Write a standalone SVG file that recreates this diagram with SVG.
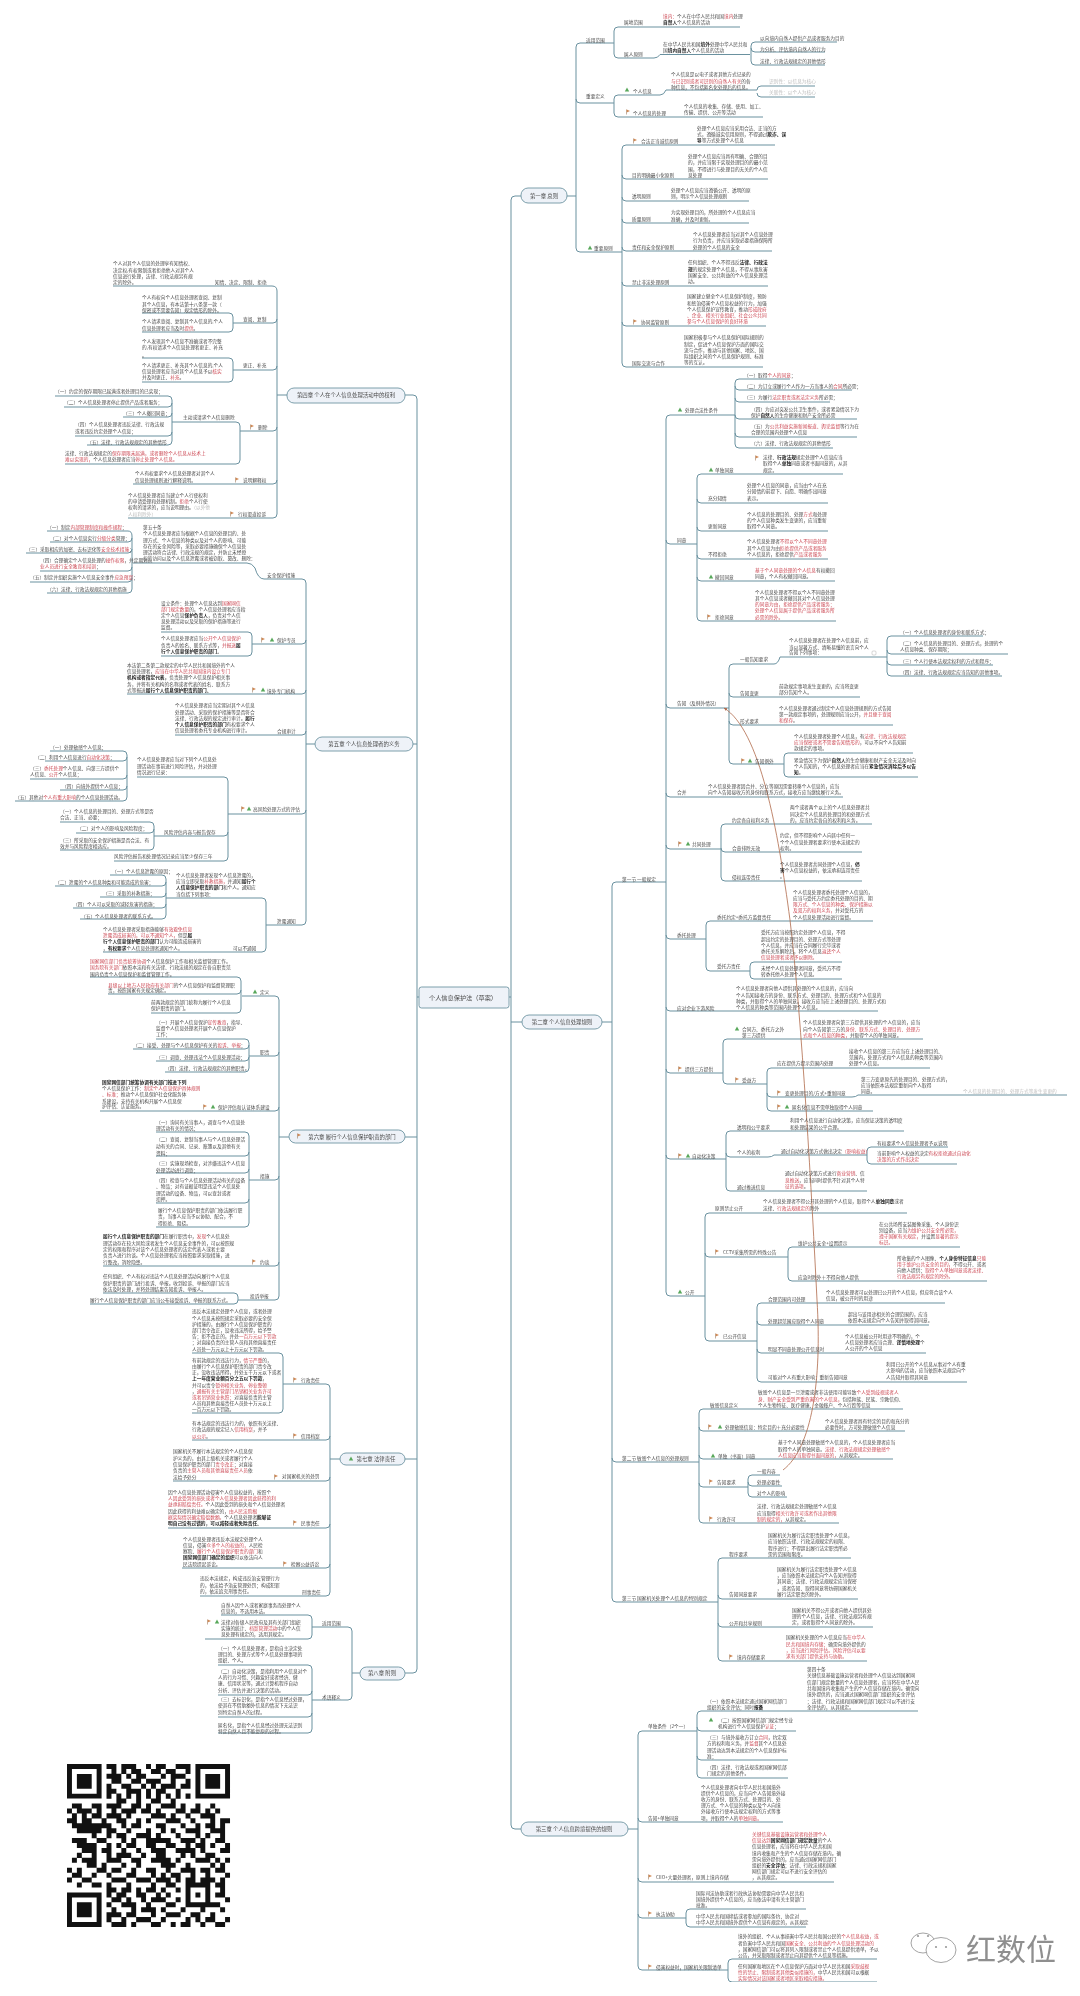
<svg xmlns="http://www.w3.org/2000/svg" width="1080" height="1996" viewBox="0 0 1080 1996">
<style>
text{font-family:"Noto Sans CJK SC","Liberation Sans",sans-serif;font-size:4.7px;fill:#4a4a4a}
.r{fill:#cc4a55}.b{font-weight:700;fill:#222}.g{fill:#bdbdbd}
.c{font-size:5.4px;text-anchor:middle}
.p{fill:#eef2f8;stroke:#6f95a3;stroke-width:.9}
.l{fill:none;stroke:#6a919f;stroke-width:1}
</style>
<defs>
<g id="f"><path d="M-1.5 2.5V-2.5" stroke="#9a7a60" stroke-width=".6"/><path d="M-1.3-2.4L2-.9-1.3.4z" fill="#d08a55"/></g>
<g id="h"><path d="M0-2.6L2.2 1.6H-2.2z" fill="#58a85a"/></g>
<filter id="s" x="0" y="0" width="100%" height="100%"><feGaussianBlur stdDeviation=".3"/></filter>
<marker id="a" markerWidth="6" markerHeight="6" refX="4" refY="2" orient="auto"><path d="M0 0L4 2 0 4z" fill="#b0694a"/></marker>
</defs>
<rect width="1080" height="1996" fill="#fff"/>
<g filter="url(#s)">
<g id="connectors">
<path class="l" d="M509 997H511M521 196H515Q511 196 511 200V1825Q511 1829 515 1829H521M511 1022H522M419 997H417M405 395H413Q417 395 417 399V1669Q417 1673 413 1673H405M413 744H417M405 1137H417M405 1459H417"/>
<path class="l" d="M567 196H576M576 47V248M576 47q0-4 4-4H614M576 99q0 4 4 4H614M576 248q0 4 4 4H622M614 31V54M614 31q0-4 4-4H740M614 54q0 4 4 4H654Q658 58 660 54.500H750M751 46V61M751 46q0-4 4-4H837M751 48q0 4 4 4H825M751 61q0 4 4 4H825M614 99V113M614 99q0-4 4-4H660Q664 95 666 90H757M614 113q0 4 4 4H763M757 90q0-4 4-4H815M757 93q0 4 4 4H815"/>
<path class="l" d="M622 149V363M622 149q0-4 4-4H775M622 175q0 4 4 4H768M622 197q0 4 4 4H749M622 219q0 4 4 4H749M622 247q0 4 4 4H772M622 282q0 4 4 4H768M622 322q0 4 4 4H766M622 363q0 4 4 4H763"/>
<path class="l" d="M602 1022H612M612 886V1598M612 886q0-4 4-4H666M612 1458q0 4 4 4H699M612 1598q0 4 4 4H718M666 419V1292M666 419q0-4 4-4H735M666 540q0 4 4 4H697M666 704q0 4 4 4H729M666 793q0 4 4 4H843M666 845q0 4 4 4H721M666 935q0 4 4 4H706M666 1007q0 4 4 4H878M666 1069q0 4 4 4H723M666 1155q0 4 4 4H726M666 1292q0 4 4 4H705"/>
<path class="l" d="M735 383V444M735 383q0-4 4-4H790M735 386q0 4 4 4H852M735 398q0 4 4 4H830M735 415q0 4 4 4H857M735 433q0 4 4 4H857M735 444q0 4 4 4H833"/>
<path class="l" d="M697 478V617M697 478q0-4 4-4H843M697 499q0 4 4 4H828M697 527q0 4 4 4H828M697 555q0 4 4 4H828M697 577q0 4 4 4H835M697 617q0 4 4 4H836"/>
<path class="l" d="M729 668V760M729 668q0-4 4-4H774Q778 664 780 657H887M729 693q0 4 4 4H860M729 721q0 4 4 4H893M729 760q0 4 4 4H784M887 640V672M887 640q0-4 4-4H983M887 650q0 4 4 4H1008M887 661q0 4 4 4H993M887 672q0 4 4 4H1002M784 757V773M784 757q0-4 4-4H913M784 773q0 4 4 4H918"/>
<path class="l" d="M721 828V877M721 828q0-4 4-4H872M721 848q0 4 4 4H862M721 877q0 4 4 4H862M706 925V967M706 925q0-4 4-4H873M706 967q0 4 4 4H750M750 966V975M750 966q0-4 4-4H842M750 975q0 4 4 4H842"/>
<path class="l" d="M723 1043V1080M723 1043q0-4 4-4H923M723 1080q0 4 4 4H767M767 1072V1107M767 1072q0-4 4-4H930M767 1093q0 4 4 4H852Q856 1097 858 1095H1067M767 1107q0 4 4 4H873"/>
<path class="l" d="M726 1135V1187M726 1135q0-4 4-4H904M726 1153q0 4 4 4H768Q772 1157 774 1155H867M726 1187q0 4 4 4H867M867 1151V1160M867 1151q0-4 4-4H948M867 1160q0 4 4 4H957"/>
<path class="l" d="M705 1217V1337M705 1217q0-4 4-4H907M705 1253q0 4 4 4H788M705 1337q0 4 4 4H757M788 1251V1277M788 1251q0-4 4-4H960M788 1277q0 4 4 4H987M757 1307V1378M757 1307q0-4 4-4H945M757 1321q0 4 4 4H929M757 1349q0 4 4 4H926M757 1378q0 4 4 4H967"/>
<path class="l" d="M699 1413V1519M699 1413q0-4 4-4H903M699 1427q0 4 4 4H905M699 1455q0 4 4 4H893M699 1483q0 4 4 4H748M699 1519q0 4 4 4H839M748 1479V1493M748 1479q0-4 4-4H780M748 1482q0 4 4 4H782M748 1493q0 4 4 4H787"/>
<path class="l" d="M718 1562V1657M718 1562q0-4 4-4H851M718 1595q0 4 4 4H858M718 1623q0 4 4 4H873M718 1657q0 4 4 4H867"/>
<path class="l" d="M628 1829H638M638 1735V1966M638 1735q0-4 4-4H697M638 1818q0 4 4 4H783M638 1878q0 4 4 4H834M638 1914q0 4 4 4H686M638 1966q0 4 4 4H728M697 1715V1774M697 1715q0-4 4-4H918M697 1727q0 4 4 4H796M697 1756q0 4 4 4H788M697 1774q0 4 4 4H788M686 1913V1923M686 1913q0-4 4-4H806M686 1923q0 4 4 4H806M728 1963V1978M728 1963q0-4 4-4H877M728 1978q0 4 4 4H877"/>
<path class="l" d="M287 395H277M277 291V514M277 291q0-5-5-5H113M277 319q0 4-4 4H233M277 366q0 4-4 4H233M277 427q0 4-4 4H240M277 480q0 4-4 4H133M277 514q0 4-4 4H128M233 317V328M233 317q0-4-4-4H142M233 328q0 4-4 4H142M233 362V378M233 362q0-4-4-4H142M233 378q0 4-4 4H142M240 426V460M240 426q0-4-4-4H172M240 460q0 4-4 4H65M172 400V441M172 400q0-4-4-4H55M172 403q0 4-4 4H64M172 413q0 4-4 4H123M172 432q0 4-4 4H75M172 441q0 4-4 4H87"/>
<path class="l" d="M315 744H306M306 583V921M306 583q0-4-4-4H264Q258 579 255 568Q252 563 247 563H133M306 640q0 4-4 4H252M306 690q0 4-4 4H127M306 731q0 4-4 4H175M306 810q0 4-4 4H228M306 921q0 4-4 4H266M132 536V589M132 536q0-5-4-5H47M132 538q0 4-4 4H50M132 549q0 4-4 4H26M132 567q0 4-4 4H40M132 578q0 4-4 4H30M132 589q0 4-4 4H47"/>
<path class="l" d="M252 636V652M252 636q0-4-4-4H161M252 652q0 4-4 4H161M228 781V857M228 781q0-4-4-4H137M228 832q0 4-4 4H154M228 857q0 4-4 4H114M127 755V797M127 755q0-4-4-4H50M127 757q0 4-4 4H45M127 775q0 4-4 4H30M127 786q0 4-4 4H60M127 797q0 4-4 4H15M154 826V846M154 826q0-4-4-4H60M154 829q0 4-4 4H76M154 846q0 4-4 4H60M266 902V948M266 902q0-4-4-4H166M266 948q0 4-4 4H103M166 879V915M166 879q0-4-4-4H110M166 882q0 4-4 4H55M166 893q0 4-4 4H100M166 904q0 4-4 4H73M166 915q0 4-4 4H80"/>
<path class="l" d="M289 1137H279M279 1000V1296M279 1000q0-4-4-4H242M279 1052q0 4-4 4H249M279 1107q0 4-4 4H100M279 1176q0 4-4 4H249M279 1262q0 4-4 4H103M279 1296q0 4-4 4H238M241 981V1009M241 981q0-4-4-4H90M241 990q0 4-4 4H108M241 1009q0 4-4 4H151M249 1043V1068M249 1043q0-4-4-4H156M249 1045q0 4-4 4H133M249 1057q0 4-4 4H156M249 1068q0 4-4 4H165M249 1136V1223M249 1136q0-4-4-4H156M249 1152q0 4-4 4H156M249 1169q0 4-4 4H156M249 1199q0 4-4 4H156M249 1223q0 4-4 4H156M238 1297V1300M238 1297q0-4-4-4H103M238 1300q0 4-4 4H90"/>
<path class="l" d="M340 1459H330M330 1388V1592M330 1388q0-4-4-4H283M330 1436q0 4-4 4H192M330 1477q0 4-4 4H173M330 1524q0 4-4 4H168M330 1564q0 4-4 4H182M330 1592q0 4-4 4H200M283 1357V1409M283 1357q0-4-4-4H192M283 1409q0 4-4 4H192M360 1673H352M352 1631V1696M352 1631q0-4-4-4H312M352 1696q0 4-4 4H312M312 1619V1635M312 1619q0-4-4-4H221M312 1635q0 4-4 4H205M312 1669V1729M312 1669q0-4-4-4H218M312 1691q0 4-4 4H218M312 1713q0 4-4 4H218M312 1729q0 4-4 4H218"/>
<path d="M783 1470C812 1448 822 1380 817 1300C812 1200 802 1020 790 920C778 830 760 730 724 708" fill="none" stroke="#b0694a" stroke-width=".8" marker-end="url(#a)"/>
</g>
<g id="root"><rect x="419" y="987" width="90" height="21" rx="2.500" class="p"/><text class="c" x="463" y="1000" style="font-size:6.2px">个人信息保护法（草案）</text></g>
<g id="ch1"><rect x="521" y="188" width="46" height="15" rx="7" class="p"/><text class="c" x="544" y="198">第一章 总则</text></g>
<g id="ch2"><rect x="522" y="1015" width="80" height="14" rx="7" class="p"/><text class="c" x="562" y="1024">第二章 个人信息处理规则</text></g>
<g id="ch3"><rect x="521" y="1822" width="107" height="14" rx="7" class="p"/><text class="c" x="574" y="1831">第三章 个人信息跨境提供的规则</text></g>
<g id="ch4"><rect x="287" y="388" width="118" height="15" rx="7" class="p"/><text class="c" x="346" y="397">第四章 个人在个人信息处理活动中的权利</text></g>
<g id="ch5"><rect x="315" y="737" width="98" height="14" rx="7" class="p"/><text class="c" x="364" y="746">第五章 个人信息处理者的义务</text></g>
<g id="ch6"><rect x="289" y="1130" width="116" height="13" rx="6.500" class="p"/><use href="#f" x="299" y="1136"/><text class="c" x="352" y="1139">第六章 履行个人信息保护职责的部门</text></g>
<g id="ch7"><rect x="340" y="1453" width="65" height="12" rx="6" class="p"/><use href="#h" x="351" y="1459"/><text class="c" x="376" y="1461">第七章 法律责任</text></g>
<g id="ch8"><rect x="360" y="1667" width="45" height="13" rx="6.500" class="p"/><text class="c" x="382" y="1675">第八章 附则</text></g>

<g id="scope">
<text x="586" y="41.600">适用范围</text>
<text x="624" y="24.300">属地范围</text>
<text x="663" y="18.300"><tspan class="r">境内：</tspan>个人在中华人民共和国<tspan class="r">境内</tspan>处理</text>
<text x="663" y="24.300"><tspan class="r b">自然人</tspan>个人信息的活动</text>
<text x="624" y="55.600">属人原则</text>
<text x="663" y="45.600">在中华人民共和国<tspan class="b">境外</tspan>处理中华人民共和</text>
<text x="663" y="51.600">国<tspan class="r b">境内自然人</tspan>个人信息的活动</text>
<text x="760" y="40.300">以向境内自然人提供产品或者服务为目的</text>
<text x="760" y="51.300">为分析、评估境内自然人的行为</text>
<text x="760" y="62.600">法律、行政法规规定的其他情形</text>
</g>
<g id="defs1">
<text x="586" y="97.600">重要定义</text>
<use href="#h" x="627" y="90"/><text x="633" y="92.600">个人信息</text>
<text x="671" y="76.300">个人信息是以电子或者其他方式记录的</text>
<text x="671" y="82.600"><tspan class="r">与已识别或者可识别的自然人有关</tspan>的各</text>
<text x="671" y="89">种信息，不包括匿名化处理后的信息。</text>
<text class="g" x="769" y="83">识别性：以信息为核心</text>
<text class="g" x="769" y="93.600">关联性：以个人为核心</text>
<use href="#f" x="628" y="112"/><text x="633" y="114.600">个人信息的处理</text>
<text x="684" y="108.300">个人信息的收集、存储、使用、加工、</text>
<text x="684" y="114.300">传输、提供、公开等活动</text>
</g>
<g id="principles">
<use href="#h" x="590" y="248"/><text x="594" y="249.600">重要原则</text>
<use href="#f" x="635" y="141"/><text x="641" y="142.600">合法正当诚信原则</text>
<text x="697" y="130">处理个人信息应当采用合法、正当的方</text>
<text x="697" y="136">式，遵循诚实信用原则，不得通过<tspan class="r b">欺诈、误</tspan></text>
<text x="697" y="142.300"><tspan class="r b">导</tspan>等方式处理个人信息</text>
<text x="632" y="176.600">目的明确最小化原则</text>
<text x="688" y="158.300">处理个人信息应当具有明确、合理的目</text>
<text x="688" y="164.300">的，并应当限于实现处理目的的最小范</text>
<text x="688" y="170.600">围，不得进行与处理目的无关的个人信</text>
<text x="688" y="176.600">息处理</text>
<text x="632" y="198.300">透明原则</text>
<text x="671" y="192.300">处理个人信息应当遵循公开、透明的原</text>
<text x="671" y="198.300">则，明示个人信息处理规则</text>
<text x="632" y="220.600">质量原则</text>
<text x="671" y="214.300">为实现处理目的，所处理的个人信息应当</text>
<text x="671" y="220.600">准确，并及时更新。</text>
<text x="632" y="248.600">责任和安全保护原则</text>
<text x="693" y="236.300">个人信息处理者应当对其个人信息处理</text>
<text x="693" y="242.300">行为负责，并应当采取必要措施保障所</text>
<text x="693" y="248.600">处理的个人信息的安全</text>
<text x="632" y="283.600">禁止非法处理原则</text>
<text x="688" y="264.300">任何组织、个人不得违反<tspan class="r b">法律、行政法</tspan></text>
<text x="688" y="270.600"><tspan class="r b">规</tspan>的规定处理个人信息，不得从事危害</text>
<text x="688" y="277">国家安全、公共利益的个人信息处理活</text>
<text x="688" y="283.300">动。</text>
<use href="#f" x="635" y="322"/><text x="641" y="323.600">协同监管原则</text>
<text x="687" y="298.300">国家建立健全个人信息保护制度，预防</text>
<text x="687" y="304.600">和惩治侵害个人信息权益的行为，加强</text>
<text x="687" y="311">个人信息保护宣传教育，推动<tspan class="r">形成政府</tspan></text>
<text x="687" y="317.300"><tspan class="r">、企业、相关行业组织、社会公众共同</tspan></text>
<text x="687" y="323.300"><tspan class="r">参与个人信息保护的良好环境</tspan></text>
<text x="632" y="364.600">国际交流与合作</text>
<text x="684" y="339.300">国家积极参与个人信息保护国际规则的</text>
<text x="684" y="345.600">制定，促进个人信息保护方面的国际交</text>
<text x="684" y="351.600">流与合作，推动与其他国家、地区、国</text>
<text x="684" y="357.600">际组织之间的个人信息保护规则、标准</text>
<text x="684" y="364.300">等的互认。</text>
</g>
<g id="sec1">
<text x="622" y="880.600">第一节 一般规定</text>
<use href="#h" x="680" y="410"/><text x="685" y="411.600">处理合法性条件</text>
<text x="744" y="377.300">（一）取得<tspan class="r">个人的同意</tspan>；</text>
<text x="744" y="388.300">（二）为订立或履行个人作为一方当事人的<tspan class="r">合同</tspan>所必需；</text>
<text x="744" y="399">（三）为履行<tspan class="r">法定职责或者法定义务</tspan>所必需；</text>
<text x="751" y="410.600">（四）为应对突发公共卫生事件，或者紧急情况下为</text>
<text x="751" y="416.600">保护<tspan class="r b">自然人</tspan>的生命健康和财产安全所必需</text>
<text x="751" y="427.600">（五）为<tspan class="r">公共利益实施新闻报道、舆论监督</tspan>等行为在</text>
<text x="751" y="433.900">合理的范围内处理个人信息</text>
<text x="751" y="445">（六）法律、行政法规规定的其他情形</text>
</g>
<g id="consent">
<text x="677" y="541.600">同意</text>
<use href="#h" x="711" y="470"/><text x="715" y="471.600">单独同意</text>
<use href="#f" x="757" y="458"/>
<text x="763" y="459">法律、<tspan class="r b">行政法规</tspan>规定处理个人信息应当</text>
<text x="763" y="465.300">取得个人<tspan class="r b">单独</tspan>同意或者书面同意的，从其</text>
<text x="763" y="471.600">规定。</text>
<text x="708" y="499.900">充分知情</text>
<text x="747" y="487.300">处理个人信息的同意，应当由个人在充</text>
<text x="747" y="493.300">分知情的前提下、自愿、明确作出同意</text>
<text x="747" y="499.900">表示。</text>
<text x="708" y="528.200">更新同意</text>
<text x="747" y="515.600">个人信息的处理目的、处理<tspan class="r">方式</tspan>和处理</text>
<text x="747" y="521.600">的个人信息种类发生变更的，应当重新</text>
<text x="747" y="528.300">取得个人同意。</text>
<text x="708" y="555.900">不得拒绝</text>
<text x="747" y="543.300">个人信息处理者<tspan class="r">不得以个人不同意处理</tspan></text>
<text x="747" y="549.600">其个人信息为由<tspan class="r">拒绝提供产品或者服务</tspan></text>
<text x="747" y="555.900">个人信息的，拒绝提供<tspan class="r">产品或者服务</tspan></text>
<use href="#h" x="711" y="577"/><text x="715" y="578.600">撤回同意</text>
<text x="755" y="571.600"><tspan class="r">基于个人同意处理的个人信息</tspan>有权撤回</text>
<text x="755" y="577.900">同意，个人有权撤回同意。</text>
<use href="#f" x="709" y="617"/><text x="715" y="618.600">拒绝同意</text>
<text x="755" y="593.600">个人信息处理者不得以个人不同意处理</text>
<text x="755" y="599.900">其个人信息或者撤回其对个人信息处理</text>
<text x="755" y="606"><tspan class="r">的同意为由，拒绝提供产品或者服务；</tspan></text>
<text x="755" y="612.300"><tspan class="r">处理个人信息属于提供产品或者服务所</tspan></text>
<text x="755" y="618.600"><tspan class="r">必需的除外。</tspan></text>
</g>
<g id="notice">
<text x="677" y="704.900">告知（及例外情况）</text>
<text x="740" y="660.600">一般告知要求</text>
<text x="789" y="642.300">个人信息处理者在处理个人信息前，应</text>
<text x="789" y="648.600">当以显著方式、清晰易懂的语言向个人</text>
<text x="789" y="654.300">告知下列事项：</text>
<rect x="872" y="651" width="4" height="4" rx="1" fill="none" stroke="#999" stroke-width=".4"/>
<text x="900" y="633.600">（一）个人信息处理者的身份和联系方式；</text>
<text x="900" y="645.300">（二）个人信息的处理目的、处理方式，处理的个</text>
<text x="900" y="651.300">人信息种类、保存期限；</text>
<text x="900" y="662.900">（三）个人行使本法规定权利的方式和程序；</text>
<text x="900" y="673.600">（四）法律、行政法规规定应当告知的其他事项。</text>
<text x="740" y="694.600">告知变更</text>
<text x="779" y="687.600">前款规定事项发生变更的，应当将变更</text>
<text x="779" y="693.900">部分告知个人。</text>
<text x="740" y="722.600">形式要求</text>
<text x="779" y="709.600">个人信息处理者通过制定个人信息处理规则的方式告知</text>
<text x="779" y="715.900">第一款规定事项的，处理规则应当公开，<tspan class="r">并且便于查阅</tspan></text>
<text x="779" y="722"><tspan class="r">和保存</tspan>。</text>
<use href="#f" x="743" y="761"/><use href="#h" x="750" y="761"/><text x="755" y="762.600">告知例外</text>
<text x="794" y="737.600">个人信息处理者处理个人信息，有<tspan class="r">法律、行政法规规定</tspan></text>
<text x="794" y="743.900"><tspan class="r">应当保密或者不需要告知情形的</tspan>，可以不向个人告知前</text>
<text x="794" y="750">款规定的事项。</text>
<text x="794" y="761.600">紧急情况下为保护<tspan class="r b">自然人</tspan>的生命健康和财产安全无法及时向</text>
<text x="794" y="767.900">个人告知的，个人信息处理者应当在<tspan class="r b">紧急情况消除后予以告</tspan></text>
<text x="794" y="774"><tspan class="r b">知</tspan>。</text>
</g>
<g id="merge">
<text x="677" y="793.900">合并</text>
<text x="708" y="787.600">个人信息处理者因合并、分立等原因需要转移个人信息的，应当</text>
<text x="708" y="793.900">向个人告知接收方的身份和联系方式，接收方应当继续履行义务。</text>
</g>
<g id="joint">
<use href="#f" x="680" y="844"/><use href="#h" x="688" y="844"/><text x="692" y="845.600">共同处理</text>
<text x="732" y="821.600">约定各自权利义务</text>
<text x="790" y="809.300">两个或者两个以上的个人信息处理者共</text>
<text x="790" y="815.600">同决定个人信息的处理目的和处理方式</text>
<text x="790" y="821.600">的，应当约定各自的权利和义务。</text>
<text x="732" y="849.600">合意排除无效</text>
<text x="780" y="837.300">约定，但不得影响个人向其中任何一</text>
<text x="780" y="843.600">个个人信息处理者要求行使本法规定的</text>
<text x="780" y="849.900">权利。</text>
<text x="732" y="878.600">侵权连带责任</text>
<text x="780" y="865.600">个人信息处理者共同处理个人信息，<tspan class="b">侵</tspan></text>
<text x="780" y="871.900"><tspan class="b">害</tspan>个人信息权益的，依法承担连带责任</text>
<text x="780" y="878.300">。</text>
</g>
<g id="entrust">
<text x="677" y="936.600">委托处理</text>
<text x="717" y="918.600">委托约定+委托方监督责任</text>
<text x="793" y="893.600">个人信息处理者委托处理个人信息的，</text>
<text x="793" y="899.900">应当与受托方约定委托处理的目的、期</text>
<text x="793" y="906.300"><tspan class="r">限方式、个人信息的种类、保护措施以</tspan></text>
<text x="793" y="912.300"><tspan class="r">及双方的权利义务，</tspan>并对受托方的</text>
<text x="793" y="918.600">个人信息处理活动进行监督。</text>
<text x="717" y="967.600">受托方责任</text>
<text x="761" y="934.300">受托方应当按照约定处理个人信息，不得</text>
<text x="761" y="940.600">超出约定的处理目的、处理方式等处理</text>
<text x="761" y="946.900">个人信息，并应当在合同履行完毕或者</text>
<text x="761" y="953.300">委托关系解除后，将个人信息<tspan class="r">返还个人</tspan></text>
<text x="761" y="959.300"><tspan class="r">信息处理者或者予以删除。</tspan></text>
<text x="761" y="970">未经个人信息处理者同意，受托方不得</text>
<text x="761" y="976.300">转委托他人处理个人信息。</text>
</g>
<g id="downstream">
<text x="677" y="1009.600">应对企业下游风险</text>
<text x="736" y="990.300">个人信息处理者向他人提供其处理的个人信息的，应当向</text>
<text x="736" y="996.600">个人告知接收方的身份、联系方式、处理目的、处理方式和个人信息的</text>
<text x="736" y="1002.900">种类，并取得个人的单独同意。接收方应当在上述处理目的、处理方式和</text>
<text x="736" y="1009">个人信息的种类等范围内处理个人信息。</text>
</g>
<g id="thirdparty">
<use href="#f" x="680" y="1069"/><text x="685" y="1070.600">提供三方提供</text>
<use href="#h" x="737" y="1029"/><text x="742" y="1030.600">合同方、委托方之外</text><text x="742" y="1036.800">第三方提供</text>
<text x="803" y="1024.300">个人信息处理者向第三方提供其处理的个人信息的，应当</text>
<text x="803" y="1030.600">向个人告知第三方的<tspan class="r">身份、联系方式、处理目的、处理方</tspan></text>
<text x="803" y="1036.900"><tspan class="r">式和个人信息的种类，</tspan>并取得个人的单独同意。</text>
<use href="#f" x="737" y="1080"/><text x="742" y="1081.600">受益方</text>
<text x="777" y="1065.300">应在提供方提示范围内处理</text>
<text x="849" y="1052.600">接收个人信息的第三方应当在上述处理目的、</text>
<text x="849" y="1058.900">范围内，处理方式和个人信息的种类等范围内</text>
<text x="849" y="1065">处理个人信息。</text>
<use href="#f" x="779" y="1093"/><text x="785" y="1094.600">变更处理目的/方式+重新同意</text>
<text x="861" y="1080.900">第三方变更原先的处理目的、处理方式的，</text>
<text x="861" y="1087.200">应当依照本法规定重新向个人取得</text>
<text x="861" y="1093.300">同意。</text>
<text class="g" x="963" y="1092.600">个人信息的处理目的、处理方式等发生变更的</text>
<use href="#f" x="779" y="1107"/><use href="#h" x="787" y="1107"/><text x="792" y="1108.600">匿名化信息不需单独取得个人同意</text>
</g>
<g id="auto">
<use href="#f" x="680" y="1156"/><use href="#h" x="688" y="1156"/><text x="692" y="1157.600">自动化决策</text>
<text x="737" y="1128.600">透明和公平要求</text>
<text x="790" y="1122.300">利用个人信息进行自动化决策，应当保证决策的透明度</text>
<text x="790" y="1128.600">和处理结果的公平合理。</text>
<text x="737" y="1153.600">个人的权利</text>
<text x="781" y="1152.900">通过自动化决策方式做出决定<tspan class="r">（影响权益）</tspan></text>
<text x="877" y="1144.600">有权要求个人信息处理者予以说明</text>
<text x="877" y="1155">当前影响个人权益的决定<tspan class="r">有权拒绝通过自动化</tspan></text>
<text x="877" y="1161.300"><tspan class="r">决策的方式作出决定</tspan></text>
<text x="737" y="1188.600">通过推送信息</text>
<text x="785" y="1175.300">通过自动化决策方式进行<tspan class="r">商业营销</tspan>、信</text>
<text x="785" y="1181.600"><tspan class="r">息推送</tspan>，应当同时提供不针对其个人特</text>
<text x="785" y="1187.900"><tspan class="r">征的选项</tspan>。</text>
</g>
<g id="public">
<use href="#h" x="680" y="1292"/><text x="685" y="1293.600">公开</text>
<text x="715" y="1209.900">原则禁止公开</text>
<text x="763" y="1203.300">个人信息处理者不得公开其处理的个人信息，取得个人<tspan class="r b">单独同意</tspan>或者</text>
<text x="763" y="1209.900">法律、<tspan class="r">行政法规规定的</tspan>除外</text>
<use href="#f" x="717" y="1252"/><text x="723" y="1253.600">CCTV采集所需的特殊公告</text>
<text x="798" y="1244.600">维护公共安全+设置提示</text>
<text x="879" y="1225.600">在公共场所安装图像采集、个人身份识</text>
<text x="879" y="1231.600">别设备，应当<tspan class="r">为维护公共安全所必需，</tspan></text>
<text x="879" y="1238"><tspan class="r">遵守国家有关规定，</tspan>并设置<tspan class="r">显著的提示</tspan></text>
<text x="879" y="1244"><tspan class="r">标识。</tspan></text>
<text x="798" y="1278.600">应急时除外＋不得向他人提供</text>
<text x="897" y="1259.900">所收集的个人图像、<tspan class="b">个人身份特征信息</tspan><tspan class="r">只能</tspan></text>
<text x="897" y="1266"><tspan class="r">用于维护公共安全的目的，</tspan>不得公开、或者</text>
<text x="897" y="1272">向他人提供；<tspan class="r">取得个人单独同意或者法律、</tspan></text>
<text x="897" y="1278"><tspan class="r">行政法规另有规定的除外。</tspan></text>
<use href="#f" x="717" y="1336"/><text x="723" y="1337.600">已公开信息</text>
<text x="768" y="1300.600">合理范围内可处理</text>
<text x="826" y="1293.600">个人信息处理者可以处理已公开的个人信息，但应符合该个人</text>
<text x="826" y="1299.900">信息，被公开时的用途</text>
<text x="768" y="1322.600">处理超范围应取得个人同意</text>
<text x="848" y="1315.600">超出与该用途相关的合理范围的，应当</text>
<text x="848" y="1322.300">依照本法规定向个人告知并取得其同意。</text>
<text x="768" y="1350.600">明显不同意处理公开信息时</text>
<text x="845" y="1337.600">个人信息被公开时用途不明确的，个</text>
<text x="845" y="1343.900">人信息处理者应当合理、<tspan class="b">谨慎地处理</tspan>个</text>
<text x="845" y="1350.300">人公开的个人信息</text>
<text x="768" y="1378.600">可能对个人有重大影响：重新告知同意</text>
<text x="886" y="1365.900">利用已公开的个人信息从事对个人有重</text>
<text x="886" y="1372.300">大影响的活动，应当依照本法规定向个</text>
<text x="886" y="1378.600">人告知并取得其同意</text>
</g>
<g id="sec2">
<text x="622" y="1459.900">第二节 敏感个人信息的处理规则</text>
<text x="710" y="1406.600">敏感信息定义</text>
<text x="758" y="1394.300">敏感个人信息是一旦泄露或者非法使用可能导致<tspan class="r">个人受到歧视或者人</tspan></text>
<text x="758" y="1400.600"><tspan class="r">身、财产安全受到严重危害的个人信息，</tspan>包括种族、民族、宗教信仰、</text>
<text x="758" y="1406.900">个人生物特征、医疗健康、金融账户、个人行踪等信息</text>
<use href="#f" x="710" y="1427"/><use href="#h" x="720" y="1427"/><text x="725" y="1428.600">处理敏感信息：特定目的＋充分必要性</text>
<text x="825" y="1422.600">个人信息处理者具有特定的目的和充分的</text>
<text x="825" y="1428.900">必要性时，方可处理敏感个人信息</text>
<use href="#h" x="713" y="1456"/><text x="718" y="1457.600">单独（书面）同意</text>
<text x="778" y="1444.300">基于个人同意处理敏感个人信息的，个人信息处理者应当</text>
<text x="778" y="1450.600">取得个人的单独同意。<tspan class="r">法律、行政法规规定处理敏感个</tspan></text>
<text x="778" y="1456.900"><tspan class="r">人信息应当取得书面同意的，</tspan>从其规定。</text>
<use href="#f" x="711" y="1482"/><text x="717" y="1483.900">告知要求</text>
<text x="757" y="1472.600">一般内容</text>
<text x="757" y="1483.600">处理必要性</text>
<text x="757" y="1494.600">对个人的影响</text>
<use href="#f" x="711" y="1519"/><text x="717" y="1520.900">行政许可</text>
<text x="757" y="1508.300">法律、行政法规规定处理敏感个人信息</text>
<text x="757" y="1514.600">应当取得<tspan class="r">相关行政许可或者作出其他限</tspan></text>
<text x="757" y="1520.900"><tspan class="r">制的规定的，</tspan>从其规定。</text>
</g>
<g id="sec3">
<text x="622" y="1599.900">第三节 国家机关处理个人信息的特别规定</text>
<text x="729" y="1555.600">程序要求</text>
<text x="768" y="1537">国家机关为履行法定职责处理个人信息，</text>
<text x="768" y="1543.300">应当依照法律、行政法规规定的权限、</text>
<text x="768" y="1549.600">程序进行；不得超出履行法定职责所必</text>
<text x="768" y="1555.900">需的范围和限度。</text>
<text x="729" y="1595.600">告知同意要求</text>
<text x="777" y="1570.600">国家机关为履行法定职责处理个人信息</text>
<text x="777" y="1576.900">，应当依照本法规定向个人告知并取得</text>
<text x="777" y="1583.300">其同意；法律、行政法规规定应当保密</text>
<text x="777" y="1589.600">，或者告知、取得同意将妨碍国家机关</text>
<text x="777" y="1595.900">履行法定职责的除外。</text>
<text x="729" y="1624.600">公开和共享规则</text>
<text x="792" y="1611.600">国家机关不得公开或者向他人提供其处</text>
<text x="792" y="1617.900">理的个人信息，法律、行政法规另有规</text>
<text x="792" y="1624.300">定，或者取得个人同意的除外。</text>
<use href="#f" x="731" y="1657"/><text x="737" y="1658.600">境内存储要求</text>
<text x="786" y="1639.300">国家机关处理的个人信息应当<tspan class="r">在中华人</tspan></text>
<text x="786" y="1645.600"><tspan class="r">民共和国境内存储；</tspan>确需向境外提供的</text>
<text x="786" y="1651.900"><tspan class="r">，应当进行风险评估。风险评估可以要</tspan></text>
<text x="786" y="1658.300"><tspan class="r">求有关部门提供支持与协助。</tspan></text>
</g>
<g id="cross1">
<text x="648" y="1727.600">单独条件（2个一）</text>
<text x="707" y="1702.600">（一）依照本法规定通过国家网信部门</text>
<text x="707" y="1708.900">组织的安全评估；同时<tspan class="r b">报备</tspan></text>
<text x="807" y="1670.900">第四十条</text>
<text x="807" y="1677.300">关键信息基础设施运营者和处理个人信息达到国家网</text>
<text x="807" y="1683.600">信部门规定数量的个人信息处理者，应当将在中华人民</text>
<text x="807" y="1689.900">共和国境内收集和产生的个人信息存储在境内。确需向</text>
<text x="807" y="1696.300">境外提供的，应当通过国家网信部门组织的安全评估</text>
<text x="807" y="1702.600">；法律、行政法规和国家网信部门规定可以不进行安</text>
<text x="807" y="1708.900">全评估的，从其规定。</text>
<use href="#h" x="711" y="1720"/>
<text x="718" y="1721.600">（二）按照国家网信部门规定经专业</text>
<text x="718" y="1727.600">机构进行个人信息保护<tspan class="r">认证</tspan>；</text>
<text x="707" y="1738.900">（三）与境外接收方订立<tspan class="r">合同</tspan>，约定双</text>
<text x="707" y="1745.300">方的权利和义务，并<tspan class="r">监督</tspan>其个人信息处</text>
<text x="707" y="1751.600">理活动达到本法规定的个人信息保护标</text>
<text x="707" y="1757.600">准；</text>
<text x="707" y="1769.300">（四）法律、行政法规或者国家网信部</text>
<text x="707" y="1775.300">门规定的其他条件。</text>
</g>
<g id="cross2">
<text x="648" y="1819.900">告知+单独同意</text>
<text x="701" y="1788.900">个人信息处理者向中华人民共和国境外</text>
<text x="701" y="1794.900">提供个人信息的，应当向个人告知境外接</text>
<text x="701" y="1801.300">收方的身份、联系方式、处理目的、处</text>
<text x="701" y="1807.300">理方式、个人信息的种类以及个人向境</text>
<text x="701" y="1813.300">外接收方行使本法规定权利的方式等事</text>
<text x="701" y="1819.600">项，并取得个人的<tspan class="r">单独同意。</tspan></text>
<use href="#f" x="650" y="1877"/><text x="656" y="1878.900">CIIO+大量处理者，原则上境内存储</text>
<text x="752" y="1835.900"><tspan class="r">关键信息基础设施运营者和处理个人</tspan></text>
<text x="752" y="1842.300"><tspan class="r">信息达到</tspan><tspan class="r b">国家网信部门规定数量</tspan>的个人</text>
<text x="752" y="1848.300">信息处理者，应当将在中华人民共和国</text>
<text x="752" y="1854.600">境内收集和产生的个人信息存储在境内。确</text>
<text x="752" y="1860.900">需向境外提供的，应当通过国家网信部门</text>
<text x="752" y="1867.300">组织的<tspan class="b">安全评估</tspan>；法律、行政法规和国家</text>
<text x="752" y="1873.300">网信部门规定可以不进行安全评估的</text>
<text x="752" y="1879">，从其规定。</text>
<use href="#f" x="650" y="1914"/><text x="656" y="1916">执法协助</text>
<text x="696" y="1894.600">国际司法协助或者行政执法协助需要向中华人民共和</text>
<text x="696" y="1900.900">国境外提供个人信息的，应当依法申请有关主管部门</text>
<text x="696" y="1907">批准。</text>
<text x="696" y="1917.600">中华人民共和国缔结或者参加的国际条约、协定对</text>
<text x="696" y="1923.900">中华人民共和国境外提供个人信息有规定的，从其规定</text>
<use href="#f" x="650" y="1967"/><text x="656" y="1968.600">侵害权益时，国家机关限制清单</text>
<text x="738" y="1938.300">境外的组织、个人从事损害中华人民共和国公民的<tspan class="r">个人信息权益，或</tspan></text>
<text x="738" y="1944.600">者危害中华人民共和国<tspan class="r">国家安全、公共利益的个人信息处理活动的</tspan></text>
<text x="738" y="1950.600">，国家网信部门可以将其列入限制或者禁止个人信息提供清单，予以</text>
<text x="738" y="1956.900">公告，并采取限制或者禁止向其提供个人信息等措施。</text>
<text x="738" y="1967.600">任何国家和地区在个人信息保护方面对中华人民共和国<tspan class="r">采取歧视</tspan></text>
<text x="738" y="1973.900"><tspan class="r">性的禁止、限制或者其他类似措施的，</tspan>中华人民共和国可以根据</text>
<text x="738" y="1980"><tspan class="r">实际情况对该国家或者地区采取相应措施。</tspan></text>
</g>
<g id="watermark">
<ellipse cx="923" cy="1943" rx="12" ry="10" fill="#fff" stroke="#9a9a9a" stroke-width=".9"/>
<ellipse cx="941" cy="1950" rx="15" ry="12.500" fill="#fff" stroke="#9a9a9a" stroke-width=".9"/>
<circle cx="918" cy="1936" r="1.100" fill="#9a9a9a"/><circle cx="928" cy="1936" r="1.100" fill="#9a9a9a"/><circle cx="936" cy="1947" r="1.100" fill="#9a9a9a"/><circle cx="946" cy="1947" r="1.100" fill="#9a9a9a"/>
<text x="966" y="1960" style="font-size:30px;fill:#8f8f8f">红数位</text>
</g>

<g id="rights">
<text x="215" y="283.900">知情、决定、限制、拒绝</text>
<text x="113" y="265">个人对其个人信息的处理享有知情权、</text>
<text x="113" y="271.600">决定权,有权限制或者拒绝他人对其个人</text>
<text x="113" y="277.600">信息进行处理，法律、行政法规另有规</text>
<text x="113" y="283.900">定的除外。</text>
<text x="243" y="320.600">查阅、复制</text>
<text x="142" y="299.300">个人有权向个人信息处理者查阅、复制</text>
<text x="142" y="305.600">其个人信息，有本法第十八条第一款（</text>
<text x="142" y="311.900">保密或不需要告知）规定情形的除外。</text>
<text x="142" y="323.300">个人请求查阅、复制其个人信息的,个人</text>
<text x="142" y="329.600">信息处理者应当及时<tspan class="r">提供</tspan>。</text>
<text x="243" y="367.300">更正、补充</text>
<text x="142" y="342.900">个人发现其个人信息不准确或者不完整</text>
<text x="142" y="349.300">的,有权请求个人信息处理者更正、补充</text>
<text x="142" y="356.600">。</text>
<text x="142" y="366.600">个人请求更正、补充其个人信息的,个人</text>
<text x="142" y="372.900">信息处理者应当对其个人信息予以<tspan class="r">核实</tspan></text>
<text x="142" y="379.300">并及时更正、<tspan class="r">补充</tspan>。</text>
<use href="#f" x="252" y="427"/><text x="258" y="428.600">删除</text>
<text x="183" y="418.600">主动或请求个人信息删除</text>
<text x="55" y="393.300">（一）约定的保存期限已届满或者处理目的已实现；</text>
<text x="64" y="403.900">（二）个人信息处理者停止提供产品或者服务；</text>
<text x="123" y="414.900">（三）个人撤回同意；</text>
<text x="75" y="425.900">（四）个人信息处理者违反法律、行政法规</text>
<text x="75" y="432.600">或者违反约定处理个人信息；</text>
<text x="87" y="443.600">（五）法律、行政法规规定的其他情形</text>
<text x="65" y="454.900">法律、行政法规规定的<tspan class="r">保存期限未届满，或者删除个人信息从技术上</tspan></text>
<text x="65" y="461.300"><tspan class="r">难以实现的，</tspan>个人信息处理者应当<tspan class="r">停止处理个人信息。</tspan></text>
<use href="#f" x="237" y="480"/><text x="243" y="481.600">说明解释权</text>
<text x="135" y="474.900">个人有权要求个人信息处理者对其个人</text>
<text x="135" y="481.600">信息处理规则进行解释说明。</text>
<use href="#f" x="232" y="514"/><text x="238" y="516">行权渠道投诉</text>
<text x="128" y="496.600">个人信息处理者应当建立个人行使权利</text>
<text x="128" y="503">的申请受理和处理机制。<tspan class="r">拒绝</tspan>个人行使</text>
<text x="128" y="509.300">权利的请求的，应当说明理由。<tspan class="g">（以外他</tspan></text>
<text x="128" y="515.600"><tspan class="g">人权利除外）</tspan></text>
</g>
<g id="security">
<text x="267" y="576.600">安全保护措施</text>
<text x="143" y="528.600">第五十条</text>
<text x="143" y="535">个人信息处理者应当根据个人信息的处理目的、处</text>
<text x="143" y="541.600">理方式、个人信息的种类以及对个人的影响、可能</text>
<text x="143" y="547.600">存在的安全风险等，采取必要措施确保个人信息处</text>
<text x="143" y="554.300">理活动符合法律、行政法规的规定，并防止未经授</text>
<text x="143" y="560">权的访问以及个人信息泄露或者被窃取、篡改、删除：</text>
<text x="47" y="528.600">（一）制定<tspan class="r">内部管理制度和操作规程</tspan>；</text>
<text x="50" y="539.900">（二）对个人信息实行<tspan class="r">分级分类</tspan>管理；</text>
<text x="26" y="551">（三）采取相应的加密、去标识化等<tspan class="r">安全技术措施</tspan>；</text>
<text x="40" y="561.600">（四）合理确定个人信息处理的<tspan class="r">操作权限</tspan>，并定期对从</text>
<text x="40" y="567.600"><tspan class="r">业人员进行安全教育和培训</tspan>；</text>
<text x="30" y="578.900">（五）制定并组织实施个人信息安全事件<tspan class="r">应急预案</tspan>；</text>
<text x="47" y="590.600">（六）法律、行政法规规定的其他措施</text>
</g>
<g id="officer">
<use href="#f" x="263" y="640"/><use href="#h" x="272" y="640"/><text x="277" y="641.600">保护专员</text>
<text x="161" y="604.900">设立条件：处理个人信息达到<tspan class="r">国家网信</tspan></text>
<text x="161" y="610.900"><tspan class="r">部门规定数量</tspan>的，个人信息处理者应当指</text>
<text x="161" y="617.300">定个人信息<tspan class="r b">保护负责人</tspan>，负责对个人信</text>
<text x="161" y="623.300">息处理活动以及采取的保护措施等进行</text>
<text x="161" y="629.300">监督。</text>
<text x="161" y="640.300">个人信息处理者应当<tspan class="r">公开个人信息保护</tspan></text>
<text x="161" y="646.600">负责人的姓名、联系方式等，<tspan class="r">并报送</tspan><tspan class="b">履</tspan></text>
<text x="161" y="653.300"><tspan class="b">行个人信息保护职责的部门。</tspan></text>
<use href="#f" x="254" y="690"/><use href="#h" x="263" y="690"/><text x="267" y="692.600">境外专门机构</text>
<text x="127" y="666.600">本法第二条第二款规定的中华人民共和国境外的个人</text>
<text x="127" y="672.900">信息处理者，<tspan class="r">应当在中华人民共和国境内设立专门</tspan></text>
<text x="127" y="679.300"><tspan class="r b">机构或者指定代表，</tspan>负责处理个人信息保护相关事</text>
<text x="127" y="685.600">务，并将有关机构的名称或者代表的姓名、联系方</text>
<text x="127" y="691.900">式等报送<tspan class="b">履行个人信息保护职责的部门。</tspan></text>
<text x="277" y="732.600">合规审计</text>
<text x="175" y="707.300">个人信息处理者应当定期对其个人信息</text>
<text x="175" y="713.600">处理活动、采取的保护措施等是否符合</text>
<text x="175" y="719.900">法律、行政法规的规定进行审计。<tspan class="b">履行</tspan></text>
<text x="175" y="725.900"><tspan class="b">个人信息保护职责的部门</tspan>有权要求个人</text>
<text x="175" y="732">信息处理者委托专业机构进行审计。</text>
</g>
<g id="risk">
<use href="#f" x="243" y="809"/><use href="#h" x="249" y="809"/><text x="253" y="810.900">高风险处理方式的评估</text>
<text x="137" y="761.300">个人信息处理者应当对下列个人信息处</text>
<text x="137" y="767.600">理活动在事前进行风险评估，并对处理</text>
<text x="137" y="773.900">情况进行记录：</text>
<text x="50" y="748.600">（一）处理敏感个人信息；</text>
<text x="35" y="758.900">（二）利用个人信息进行<tspan class="r">自动化决策</tspan>；</text>
<text x="30" y="770.300">（三）<tspan class="r">委托处理</tspan>个人信息、向第三方提供个</text>
<text x="30" y="776.300">人信息、<tspan class="r">公开</tspan>个人信息；</text>
<text x="62" y="787.600">（四）向境外提供个人信息；</text>
<text x="15" y="798.600">（五）其他对<tspan class="r">个人有重大影响</tspan>的个人信息处理活动。</text>
<text x="164" y="833.600">风险评估内容与报告保存</text>
<text x="60" y="813.300">（一）个人信息的处理目的、处理方式等是否</text>
<text x="60" y="819">合法、正当、必要；</text>
<text x="77" y="829.900">（二）对个人的影响及风险程度；</text>
<text x="60" y="841.600">（三）所采取的安全保护措施是否合法、有</text>
<text x="60" y="847.600">效并与风险程度相适应。</text>
<text x="114" y="858.300">风险评估报告和处理情况记录应当至少保存三年</text>
</g>
<g id="breach">
<text x="277" y="922.600">泄露通知</text>
<text x="176" y="876.600">个人信息处理者发现个人信息泄露的，</text>
<text x="176" y="882.900">应当立即采取<tspan class="r">补救措施，</tspan>并通知<tspan class="b">履行个</tspan></text>
<text x="176" y="889.300"><tspan class="b">人信息保护职责的部门</tspan>和个人。通知应</text>
<text x="176" y="895.900">当包括下列事项：</text>
<text x="112" y="872.600">（一）个人信息泄露的原因；</text>
<text x="55" y="883.900">（二）泄露的个人信息种类和可能造成的危害；</text>
<text x="103" y="895">（三）采取的补救措施；</text>
<text x="73" y="906.300">（四）个人可以采取的减轻危害的措施；</text>
<text x="81" y="917.600">（五）个人信息处理者的联系方式。</text>
<text x="233" y="949.600">可以不通知</text>
<text x="103" y="930.600">个人信息处理者采取措施能够<tspan class="r">有效避免信息</tspan></text>
<text x="103" y="936.600"><tspan class="r">泄露造成损害的，可以不通知个人，</tspan>但是<tspan class="b">履</tspan></text>
<text x="103" y="943.300"><tspan class="b">行个人信息保护职责的部门</tspan>认为可能造成损害的</text>
<text x="103" y="949.600">，<tspan class="b">有权要求</tspan>个人信息处理者通知个人。</text>
</g>
<g id="regulators">
<text x="90" y="963.300"><tspan class="r">国家网信部门负责统筹协调</tspan>个人信息保护工作和相关监督管理工作。</text>
<text x="90" y="969"><tspan class="r">国务院有关部门</tspan>依照本法和有关法律、行政法规的规定在各自职责范</text>
<text x="90" y="975.600">围内负责个人信息保护和监督管理工作。</text>
<use href="#h" x="255" y="992"/><text x="260" y="993.600">定义</text>
<text x="108" y="986.600"><tspan class="r">县级以上地方人民政府有关部门</tspan>的个人信息保护和监督管理职</text>
<text x="108" y="992.300">责，按照国家有关规定确定。</text>
<text x="151" y="1003.900">前两款规定的部门统称为履行个人信息</text>
<text x="151" y="1009.900">保护职责的部门。</text>
<text x="260" y="1053.600">职责</text>
<text x="156" y="1023.900">（一）开展个人信息保护<tspan class="r">宣传教育</tspan>，指导、</text>
<text x="156" y="1030">监督个人信息处理者开展个人信息保护</text>
<text x="156" y="1036.300">工作；</text>
<text x="133" y="1047.300">（二）接受、处理与个人信息保护有关的<tspan class="r">投诉、举报</tspan>；</text>
<text x="156" y="1058.600">（三）调查、处理违法个人信息处理活动；</text>
<text x="165" y="1069.900">（四）法律、行政法规规定的其他职责。</text>
<use href="#f" x="205" y="1107"/><use href="#h" x="213" y="1107"/><text x="218" y="1108.600">保护评估和认证体系建设</text>
<text x="102" y="1083.600"><tspan class="b">国家网信部门统筹协调有关部门推进下列</tspan></text>
<text x="102" y="1089.900">个人信息保护工作：<tspan class="r">制定个人信息保护具体规则</tspan></text>
<text x="102" y="1096.300"><tspan class="r">、标准；</tspan>推动个人信息保护社会化服务体</text>
<text x="102" y="1102.600">系建设，支持有关机构开展个人信息保</text>
<text x="102" y="1108.300">护评估、认证服务。</text>
<text x="260" y="1177.600">措施</text>
<text x="156" y="1123.900">（一）询问有关当事人，调查与个人信息处</text>
<text x="156" y="1130">理活动有关的情况；</text>
<text x="156" y="1140.900">（二）查阅、复制当事人与个人信息处理活</text>
<text x="156" y="1147.600">动有关的合同、记录、账簿以及其他有关</text>
<text x="156" y="1154.600">资料；</text>
<text x="156" y="1164.900">（三）实施现场检查，对涉嫌违法个人信息</text>
<text x="156" y="1171.600">处理活动进行调查；</text>
<text x="156" y="1181.900">（四）检查与个人信息处理活动有关的设备</text>
<text x="156" y="1188.300">、物品；对有证据证明是违法个人信息处</text>
<text x="156" y="1194.600">理活动的设备、物品，可以查封或者</text>
<text x="156" y="1200.900">扣押。</text>
<text x="158" y="1211.600">履行个人信息保护职责的部门依法履行职</text>
<text x="158" y="1218.300">责，当事人应当予以协助、配合，不</text>
<text x="158" y="1224.600">得拒绝、阻挠。</text>
<use href="#f" x="254" y="1262"/><text x="260" y="1263.600">约谈</text>
<text x="103" y="1238.300"><tspan class="b">履行个人信息保护职责的部门</tspan>在履行职责中，<tspan class="r">发现</tspan>个人信息处</text>
<text x="103" y="1244.900">理活动存在较大风险或者发生个人信息安全事件的，可以按照规</text>
<text x="103" y="1251">定的权限和程序对该个人信息处理者的法定代表人或者主要</text>
<text x="103" y="1257.300">负责人进行约谈。个人信息处理者应当按照要求采取措施，进</text>
<text x="103" y="1263.600">行整改，消除隐患。</text>
<text x="250" y="1297.600">投诉举报</text>
<text x="103" y="1278.300">任何组织、个人有权对违法个人信息处理活动向履行个人信息</text>
<text x="103" y="1284.600">保护职责的部门进行投诉、举报。收到投诉、举报的部门应当</text>
<text x="103" y="1290.900">依法及时处理，并将处理结果告知投诉、举报人。</text>
<text x="90" y="1302.300">履行个人信息保护职责的部门应当公布接受投诉、举报的联系方式。</text>
</g>
<g id="liability">
<use href="#f" x="295" y="1380"/><text x="301" y="1381.600">行政责任</text>
<text x="192" y="1313.300">违反本法规定处理个人信息，或者处理</text>
<text x="192" y="1319.600">个人信息未按照规定采取必要的安全保</text>
<text x="192" y="1325.600">护措施的，由履行个人信息保护职责的</text>
<text x="192" y="1331.900">部门责令改正，没收违法所得，给予警</text>
<text x="192" y="1338.300">告；拒不改正的，并处<tspan class="r">一百万元以下罚款</tspan></text>
<text x="192" y="1344.300">；对直接负责的主管人员和其他直接责任</text>
<text x="192" y="1350.600">人员处一万元以上十万元以下罚款。</text>
<text x="192" y="1361.600">有前款规定的违法行为，<tspan class="r">情节严重</tspan>的，</text>
<text x="192" y="1367.900">由履行个人信息保护职责的部门责令改</text>
<text x="192" y="1374">正，没收违法所得，并处五千万元以下或者</text>
<text x="192" y="1380.300"><tspan class="r b">上一年度营业额百分之五以下罚款</tspan>，</text>
<text x="192" y="1386.600">并可以责令<tspan class="r">暂停相关业务、停业整顿</tspan></text>
<text x="192" y="1392.600">，<tspan class="r">通报有关主管部门吊销相关业务许可</tspan></text>
<text x="192" y="1398.900"><tspan class="r">或者吊销营业执照；</tspan>对直接负责的主管</text>
<text x="192" y="1405">人员和其他直接责任人员处十万元以上</text>
<text x="192" y="1411">一百万元以下罚款。</text>
<use href="#f" x="295" y="1436"/><text x="301" y="1437.600">信用档案</text>
<text x="192" y="1424.900">有本法规定的违法行为的，依照有关法律、</text>
<text x="192" y="1431.300">行政法规的规定记入<tspan class="r">信用档案</tspan>，并予</text>
<text x="192" y="1437.600"><tspan class="r">以公示</tspan>。</text>
<use href="#f" x="276" y="1477"/><text x="282" y="1478.300">对国家机关的处罚</text>
<text x="173" y="1453.300">国家机关不履行本法规定的个人信息保</text>
<text x="173" y="1459.600">护义务的，由其上级机关或者履行个人</text>
<text x="173" y="1465.900">信息保护职责的部门<tspan class="r">责令改正</tspan>；对直接</text>
<text x="173" y="1472.300">负责的<tspan class="r">主管人员和其他直接责任人员</tspan>依</text>
<text x="173" y="1478.600">法给予处分</text>
<use href="#f" x="295" y="1523"/><text x="301" y="1525">民事责任</text>
<text x="168" y="1493.600">因个人信息处理活动侵害个人信息权益的，按照个</text>
<text x="168" y="1499.900"><tspan class="r">人因此受到的损失或者个人信息处理者因此获得的利</tspan></text>
<text x="168" y="1506.300"><tspan class="r">益承担赔偿责任。</tspan>个人因此受到的损失和个人信息处理者</text>
<text x="168" y="1512.600">因此获得的利益难以确定的，<tspan class="r">由人民法院根</tspan></text>
<text x="168" y="1518.600"><tspan class="r">据实际情况确定赔偿数额。</tspan>个人信息处理者<tspan class="r b">能够证</tspan></text>
<text x="168" y="1524.600"><tspan class="r b">明自己没有过错的，可以减轻或者免除责任。</tspan></text>
<use href="#f" x="285" y="1564"/><text x="291" y="1565.600">检察公益诉讼</text>
<text x="183" y="1540.600">个人信息处理者违反本法规定处理个人</text>
<text x="183" y="1546.900">信息，侵害<tspan class="r">众多个人的权益的，</tspan>人民检</text>
<text x="183" y="1553.300">察院、<tspan class="r">履行个人信息保护职责的部门</tspan>和</text>
<text x="183" y="1559.300"><tspan class="r b">国家网信部门确定的组织</tspan>可以依法向人</text>
<text x="183" y="1565.600">民法院提起诉讼。</text>
<text x="302" y="1593.600">刑事责任</text>
<text x="200" y="1579.900">违反本法规定，构成违反治安管理行为</text>
<text x="200" y="1586.600">的，依法给予治安管理处罚；构成犯罪</text>
<text x="200" y="1593.300">的，依法追究刑事责任。</text>
</g>
<g id="supplement">
<text x="322" y="1624.900">适用范围</text>
<text x="221" y="1606.600">自然人因个人或者家庭事务而处理个人</text>
<text x="221" y="1612.900">信息的，不适用本法。</text>
<use href="#f" x="209" y="1622"/><use href="#h" x="217" y="1622"/>
<text x="221" y="1623.600">法律对各级人民政府及其有关部门组织</text>
<text x="221" y="1629.900">实施的统计、<tspan class="r">档案管理活动</tspan>中的个人信</text>
<text x="221" y="1636.300">息处理有规定的，适用其规定。</text>
<text x="322" y="1698.600">术语释义</text>
<text x="218" y="1649.900">（一）个人信息处理者，是指自主决定处</text>
<text x="218" y="1656.300">理目的、处理方式等个人信息处理事项的</text>
<text x="218" y="1662.300">组织、个人。</text>
<text x="218" y="1672.600">（二）自动化决策，是指利用个人信息对个</text>
<text x="218" y="1678.600">人的行为习惯、兴趣爱好或者经济、健</text>
<text x="218" y="1684.900">康、信用状况等，通过计算机程序自动</text>
<text x="218" y="1691.600">分析、评估并进行决策的活动。</text>
<text x="218" y="1701">（三）去标识化，是指个人信息经过处理，</text>
<text x="218" y="1707.300">使其在不借助额外信息的情况下无法识</text>
<text x="218" y="1713.600">别特定自然人的过程。</text>
<text x="218" y="1726.600">匿名化，是指个人信息经过处理无法识别</text>
<text x="218" y="1732.600">特定自然人且不能复原的过程。</text>
</g>
</g>
<g id="qr" transform="translate(67 1764) scale(4.940)">
<path fill="#111" fill-rule="evenodd" d="M0 0h7v7h-7zM1 1v5h5v-5zM2 2h3v3h-3zM26 0h7v7h-7zM27 1v5h5v-5zM28 2h3v3h-3zM0 26h7v7h-7zM1 27v5h5v-5zM2 28h3v3h-3z"/>
<path fill="none" stroke="#111" stroke-width="1.020" d="M8 .5h2M11 .5h3M16 .5h1M18 .5h2M22 .5h3M9 1.500h1M11 1.500h1M13 1.500h2M17 1.500h2M20 1.500h2M24 1.500h1M8 2.500h3M12 2.500h1M14 2.500h2M19 2.500h1M21 2.500h3M9 3.500h2M13 3.500h2M16 3.500h3M21 3.500h1M24 3.500h1M8 4.500h1M11 4.500h2M15 4.500h1M17 4.500h1M19 4.500h3M23 4.500h2M8 5.500h2M12 5.500h3M16 5.500h1M18 5.500h2M22 5.500h1M8 6.500h1M10 6.500h1M12 6.500h1M14 6.500h1M16 6.500h1M18 6.500h1M20 6.500h1M22 6.500h1M24 6.500h1M10 7.500h2M14 7.500h1M17 7.500h2M21 7.500h1M1 8.500h2M5 8.500h2M8 8.500h3M13 8.500h2M16 8.500h1M19 8.500h3M23 8.500h1M26 8.500h1M29 8.500h1M0 9.500h1M2 9.500h3M6 9.500h1M9 9.500h1M11 9.500h3M15 9.500h2M18 9.500h1M22 9.500h2M25 9.500h2M28 9.500h1M30 9.500h1M1 10.500h1M3 10.500h1M5 10.500h2M8 10.500h3M12 10.500h1M17 10.500h3M21 10.500h1M24 10.500h1M27 10.500h3M0 11.500h2M3 11.500h2M7 11.500h1M10 11.500h2M14 11.500h1M16 11.500h1M20 11.500h3M25 11.500h1M29 11.500h1M31 11.500h2M1 12.500h8M11 12.500h1M13 12.500h2M18 12.500h2M23 12.500h1M26 12.500h1M28 12.500h2M31 12.500h1M2 13.500h5M8 13.500h2M12 13.500h1M16 13.500h1M19 13.500h1M21 13.500h1M24 13.500h3M29 13.500h3M5 14.500h1M8 14.500h1M10 14.500h2M14 14.500h3M18 14.500h1M22 14.500h1M26 14.500h1M28 14.500h1M31 14.500h1M1 15.500h3M6 15.500h2M11 15.500h1M13 15.500h1M16 15.500h5M23 15.500h3M27 15.500h1M30 15.500h2M2 16.500h4M8 16.500h1M10 16.500h1M12 16.500h2M16 16.500h2M20 16.500h2M24 16.500h1M26 16.500h2M29 16.500h1M32 16.500h1M3 17.500h3M7 17.500h2M11 17.500h1M14 17.500h1M17 17.500h3M22 17.500h4M27 17.500h1M31 17.500h2M2 18.500h1M5 18.500h1M8 18.500h1M10 18.500h3M15 18.500h1M18 18.500h2M23 18.500h1M25 18.500h1M28 18.500h2M1 19.500h1M3 19.500h3M8 19.500h3M13 19.500h2M17 19.500h4M22 19.500h1M26 19.500h3M30 19.500h1M32 19.500h1M4 20.500h2M7 20.500h1M11 20.500h1M14 20.500h1M19 20.500h3M24 20.500h1M29 20.500h1M31 20.500h1M0 21.500h1M2 21.500h1M6 21.500h2M9 21.500h2M13 21.500h1M16 21.500h2M20 21.500h1M23 21.500h3M27 21.500h2M30 21.500h2M1 22.500h2M5 22.500h1M8 22.500h1M12 22.500h2M17 22.500h1M19 22.500h1M21 22.500h2M25 22.500h1M28 22.500h1M32 22.500h1M0 23.500h1M3 23.500h2M9 23.500h3M14 23.500h3M18 23.500h3M22 23.500h1M24 23.500h2M27 23.500h3M31 23.500h1M2 24.500h1M5 24.500h2M8 24.500h1M12 24.500h1M17 24.500h1M20 24.500h2M24 24.500h5M30 24.500h2M8 25.500h2M11 25.500h2M14 25.500h1M16 25.500h2M19 25.500h1M22 25.500h1M24 25.500h1M28 25.500h1M31 25.500h1M8 26.500h1M10 26.500h2M14 26.500h2M18 26.500h1M20 26.500h1M24 26.500h1M26 26.500h1M28 26.500h1M30 26.500h2M9 27.500h2M12 27.500h1M15 27.500h1M17 27.500h3M22 27.500h1M24 27.500h1M28 27.500h1M32 27.500h1M8 28.500h1M11 28.500h3M16 28.500h1M20 28.500h2M24 28.500h5M29 28.500h2M9 29.500h1M13 29.500h1M15 29.500h3M19 29.500h1M23 29.500h1M27 29.500h1M31 29.500h1M8 30.500h3M12 30.500h2M17 30.500h1M20 30.500h3M25 30.500h2M29 30.500h1M8 31.500h1M11 31.500h1M14 31.500h3M19 31.500h1M24 31.500h1M26 31.500h1M28 31.500h2M32 31.500h1M9 32.500h3M13 32.500h1M17 32.500h2M21 32.500h1M23 32.500h2M27 32.500h1M30 32.500h2"/>
</g>
</svg>
